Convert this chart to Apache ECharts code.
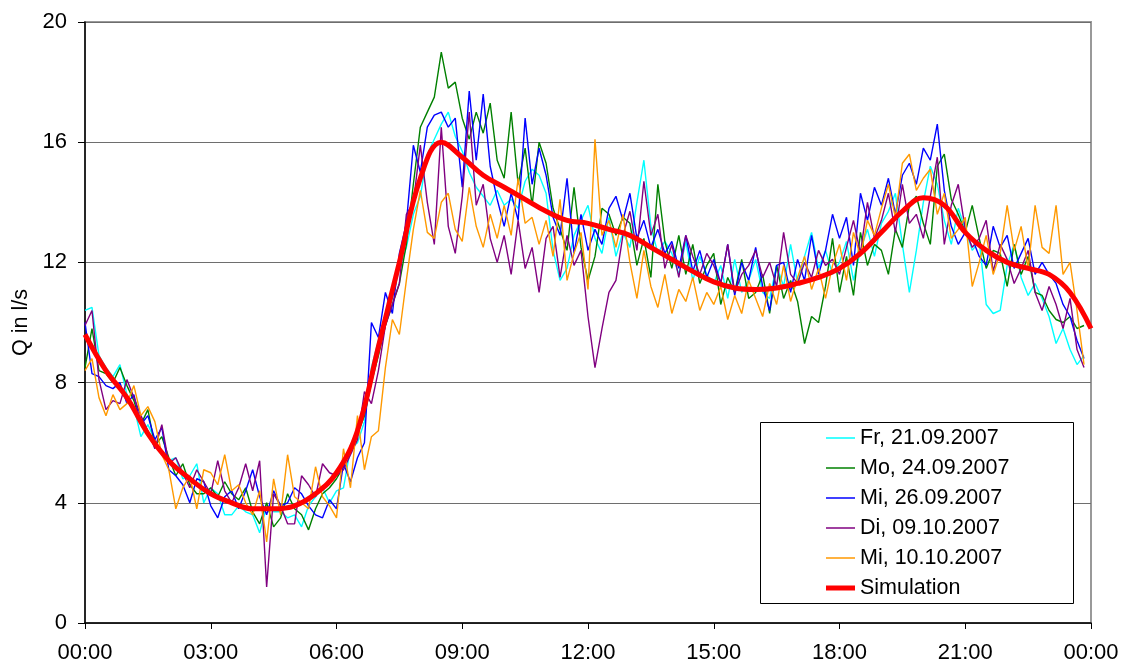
<!DOCTYPE html>
<html>
<head>
<meta charset="utf-8">
<script src="https://cdn.jsdelivr.net/npm/echarts@6/dist/echarts.min.js"></script>
<style>
html,body{margin:0;padding:0;background:#fff;}
#chart{width:1122px;height:666px;}
</style>
</head>
<body>
<div id="chart"></div>
<script>
// measured series, one value every 10 minutes from 00:00
const sampleStepMin = 10;
const simStepMin = 30;
const seriesNames = ['Fr, 21.09.2007','Mo, 24.09.2007','Mi, 26.09.2007','Di, 09.10.2007','Mi, 10.10.2007','Simulation'];
const xTickLabels = ['00:00','03:00','06:00','09:00','12:00','15:00','18:00','21:00','00:00'];

const fr21 = [
10.4,10.5,8.9,8.5,8.2,8.6, 7.6,7.2,6.2,6.6,6.1,5.6, 5.4,5.5,4.8,4.9,5.3,4.0, 4.5,4.3,3.6,3.6,3.9,3.7,
3.6,3.0,3.9,3.7,3.7,3.5, 3.6,3.2,3.9,4.2,4.5,4.0, 4.4,4.5,5.8,6.0,6.7,8.5, 9.4,10.0,10.8,11.8,12.5,13.6,
14.2,15.6,16.1,16.6,17.0,16.2, 15.7,15.0,14.5,14.2,13.9,14.4, 13.9,14.1,13.8,14.7,15.1,14.9, 14.3,12.4,11.4,11.8,12.9,13.4,
13.9,12.8,12.3,13.5,12.2,13.0, 12.5,14.0,15.4,13.2,12.3,12.7, 12.3,11.6,12.7,11.4,12.2,11.6, 11.3,11.9,10.8,12.1,11.0,11.4,
12.1,11.0,10.8,11.9,11.2,12.6, 11.3,12.2,13.0,11.8,12.4,11.6, 12.0,12.7,11.4,12.4,13.1,12.2, 13.3,13.7,14.3,12.6,11.0,12.4,
14.0,15.2,14.6,13.4,12.6,13.8, 13.1,12.4,12.7,10.6,10.3,10.4, 11.9,12.6,11.5,10.9,11.3,10.8, 10.2,9.3,9.8,9.1,8.6,8.9
];
const mo24 = [
8.5,9.8,8.4,8.3,8.0,8.5, 7.9,7.4,6.6,7.1,5.9,6.2, 5.5,4.9,5.3,4.6,4.3,4.3, 4.5,4.2,4.7,4.3,4.1,4.5,
3.7,3.3,4.0,3.2,3.5,4.3, 3.8,3.6,3.1,3.8,4.3,4.5, 4.8,5.2,5.9,6.3,6.9,8.0, 8.9,9.9,10.6,11.3,12.6,14.6,
16.5,17.0,17.5,19.0,17.8,18.0, 16.8,16.1,17.0,16.3,17.3,15.4, 14.8,17.0,14.6,15.8,13.9,16.0, 15.3,13.8,13.1,12.4,14.5,12.5,
11.4,12.2,13.8,13.6,12.9,13.5, 13.3,11.9,12.8,11.5,14.6,12.7, 11.8,12.9,11.6,12.6,11.3,11.9, 12.3,10.6,11.5,11.0,12.1,10.8,
11.0,11.6,10.3,11.9,10.8,11.4, 10.7,9.3,10.2,10.0,11.2,12.8, 11.0,12.2,10.9,13.0,11.9,12.6, 12.4,11.6,13.1,12.5,13.9,14.2,
13.3,12.6,15.2,15.6,14.1,13.6, 13.0,13.9,12.8,11.8,12.4,12.3, 11.2,12.6,11.6,12.2,11.0,10.9, 10.4,10.1,10.0,10.2,9.8,9.9
];
const mi26 = [
10.0,8.3,8.2,7.9,7.8,8.0, 7.3,7.6,6.6,6.9,6.1,6.5, 5.1,4.9,4.6,4.0,4.8,4.7, 3.9,3.5,4.2,4.4,3.8,4.4,
5.1,4.2,3.6,4.4,3.9,4.0, 4.5,4.3,3.9,3.6,3.5,4.1, 3.8,5.3,4.7,5.5,6.0,10.0, 9.5,11.0,10.3,12.3,13.3,15.9,
15.0,16.5,16.9,17.0,16.5,16.8, 14.5,17.7,15.4,17.6,15.2,14.1, 13.2,14.3,13.4,16.8,14.6,15.8, 14.9,13.5,12.9,14.8,12.3,13.6,
12.4,13.1,12.6,13.8,14.2,13.4, 14.3,12.8,13.4,12.5,13.1,12.3, 12.7,11.8,12.9,11.7,12.4,11.5, 12.1,11.3,12.6,10.9,12.0,11.4,
12.5,11.2,10.4,11.9,12.0,11.0, 12.1,11.4,12.9,11.6,12.4,13.6, 12.8,13.5,11.9,14.3,13.4,14.5, 13.9,14.8,13.6,14.9,15.3,14.6,
15.8,15.4,16.6,14.4,13.2,12.6, 13.0,12.8,12.2,11.9,13.2,12.5, 12.9,11.8,12.3,12.8,11.6,12.0, 11.6,11.3,10.6,10.2,9.4,8.8
];
const di09 = [
9.9,10.4,8.1,7.1,7.4,7.3, 8.1,7.5,6.9,6.4,5.8,6.6, 5.3,5.5,5.0,4.5,5.1,4.7, 4.3,5.4,4.4,4.0,4.5,5.3,
4.4,5.4,1.2,4.3,3.9,3.3, 3.3,4.9,4.6,4.2,5.3,5.0, 4.9,5.1,5.6,6.1,7.7,7.3, 8.4,9.9,10.6,11.3,13.6,14.0,
15.9,14.0,12.6,16.5,13.2,12.3, 14.2,17.0,13.9,14.6,12.8,12.0, 12.9,11.6,13.4,11.8,12.5,11.0, 12.8,13.2,11.5,12.9,11.9,12.4,
10.2,8.5,9.8,11.0,11.4,12.9, 13.7,12.4,14.7,12.9,13.6,11.8, 12.6,11.5,12.9,12.2,11.6,12.3, 11.9,11.3,12.6,11.0,11.6,11.9,
12.4,11.5,12.0,11.2,13.0,11.6, 11.3,12.0,11.5,12.4,11.9,12.1, 11.6,12.5,13.4,12.3,14.0,12.8, 13.4,14.3,13.0,14.6,13.3,13.6,
12.8,14.2,15.5,12.6,13.9,14.6, 13.1,12.5,12.8,13.4,11.7,12.6, 12.1,11.3,11.8,12.4,11.0,10.4, 11.2,10.6,9.8,10.8,9.1,8.5
];
const mi10 = [
8.4,8.8,7.5,6.9,7.6,7.1, 7.3,7.9,6.9,7.2,6.7,5.6, 5.1,3.8,4.5,4.9,3.8,5.1, 5.0,4.6,5.6,4.4,4.6,4.0,
3.6,4.4,2.7,4.8,3.6,5.6, 4.2,4.0,3.8,5.2,4.2,3.9, 3.5,5.8,4.5,6.9,5.1,6.2, 6.4,8.5,10.1,9.6,11.4,13.1,
14.4,13.0,12.8,14.0,14.3,13.1, 12.7,14.5,13.2,12.5,13.6,12.8, 13.9,12.9,14.8,13.3,13.5,12.6, 13.4,12.2,14.1,11.4,12.3,13.0,
11.1,16.1,12.9,13.4,12.5,13.6, 12.0,10.8,12.4,11.2,10.5,11.6, 10.3,11.1,10.7,11.5,10.4,11.0, 10.6,11.2,10.1,10.9,10.3,11.4,
10.8,10.2,11.3,10.6,11.9,10.7, 11.5,12.2,11.1,11.8,10.8,11.9, 12.6,11.4,13.0,12.2,13.4,12.9, 13.8,14.6,13.5,15.3,15.6,14.4,
14.8,15.1,13.6,14.3,12.8,13.1, 13.5,11.2,12.0,12.9,11.6,12.3, 13.9,12.4,13.2,11.8,13.9,12.5, 12.3,13.9,11.6,12.0,10.4,8.6
];
// simulation, one value every 30 minutes from 00:00 to 24:00
const simulation = [
9.6,8.4,7.5,6.3,5.4,4.8,4.3,4.0,3.8,3.8,3.9,4.3,5.0,6.4,9.2,12.0,
14.8,16.0,15.5,14.9,14.5,14.1,13.7,13.4,13.3,13.1,12.9,12.5,12.1,11.7,11.35,11.15,
11.1,11.15,11.3,11.5,11.8,12.3,13.0,13.7,14.15,13.9,13.0,12.4,12.0,11.8,11.6,11.0,9.8
];
const colors = ['#00FFFF','#008000','#0000FF','#800080','#FF9900','#FF0000'];

const FONT = 'Liberation Sans, Arial, sans-serif';
function pairs(arr, step){ return arr.map((v,i)=>[i*step, v]); }
const measured = [fr21, mo24, mi26, di09, mi10];

const series = measured.map((arr, k) => ({
  name: seriesNames[k], type: 'line', data: pairs(arr, sampleStepMin),
  symbol: 'none', lineStyle: {color: colors[k], width: 1.4}, itemStyle:{color: colors[k]},
  z: 2 + k
}));
series.push({
  name: seriesNames[5], type: 'line', data: pairs(simulation, simStepMin),
  symbol: 'none', smooth: 0.4, lineStyle: {color: colors[5], width: 5}, itemStyle:{color: colors[5]}, z: 10
});

const thinIcon = 'path://M0,0H58V3H0Z';
const thickIcon = 'path://M0,0H58V10H0Z';
const legendData = seriesNames.map((n, k) => ({name: n, icon: k === 5 ? thickIcon : thinIcon}));

const chart = echarts.init(document.getElementById('chart'), null, {renderer:'canvas'});
chart.setOption({
  animation: false,
  backgroundColor: '#fff',
  textStyle: {fontFamily: FONT},
  grid: {left: 85, right: 31, top: 22, bottom: 43, show: true, borderColor: '#999', borderWidth: 2, backgroundColor: 'transparent'},
  xAxis: {
    type: 'value', min: 0, max: 1440, interval: 180,
    axisLine: {show: true, onZero: false, lineStyle: {color: '#000', width: 1.5}},
    axisTick: {show: true, inside: false, length: 6, lineStyle: {color: '#000'}},
    splitLine: {show: false},
    axisLabel: {margin: 19, fontSize: 22, color: '#000', fontFamily: FONT,
      formatter: v => xTickLabels[Math.round(v/180)]}
  },
  yAxis: {
    type: 'value', min: 0, max: 20, interval: 4,
    name: 'Q in l/s', nameLocation: 'middle', nameGap: 52, nameRotate: 90,
    nameTextStyle: {fontSize: 21.5, color: '#000', fontFamily: FONT},
    axisLine: {show: true, onZero: false, lineStyle: {color: '#000', width: 1.5}},
    axisTick: {show: true, inside: false, length: 7, lineStyle: {color: '#000'}},
    splitLine: {show: true, lineStyle: {color: '#6e6e6e', width: 1}},
    axisLabel: {margin: 18, fontSize: 22, color: '#000', fontFamily: FONT}
  },
  legend: {
    orient: 'vertical', left: 826, top: 427, padding: 0, z: 60,
    itemWidth: 29, itemHeight: 14, itemGap: 8, symbolKeepAspect: true,
    textStyle: {fontSize: 21.5, lineHeight: 22, color: '#000', fontFamily: FONT},
    data: legendData
  },
  graphic: [{
    type: 'rect', left: 760, top: 422, z: 20,
    shape: {width: 313, height: 181},
    style: {fill: '#fff', stroke: '#000', lineWidth: 1}
  }],
  series: series
});
</script>
</body>
</html>
